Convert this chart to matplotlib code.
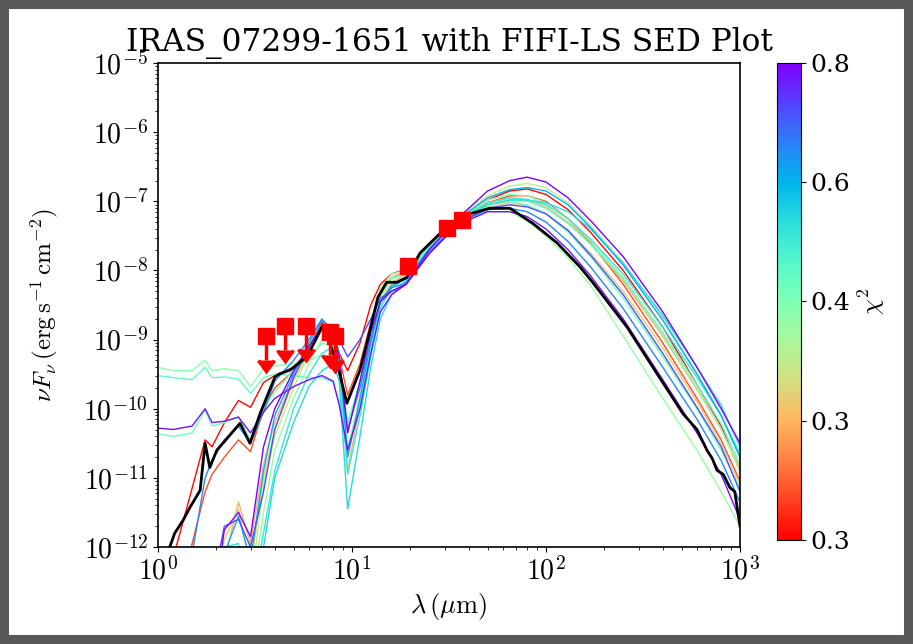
import numpy as np
import matplotlib
matplotlib.use('Agg')
import matplotlib.pyplot as plt
from matplotlib.colors import LogNorm
from matplotlib.ticker import LogLocator, FixedLocator, FuncFormatter
from matplotlib.patches import Rectangle

plt.rcParams['font.family'] = 'serif'
plt.rcParams['font.serif'] = ['DejaVu Serif']
plt.rcParams['mathtext.fontset'] = 'cm'

title = 'IRAS_07299-1651 with FIFI-LS SED Plot'

# wavelength grid (micron) shared by the model curves
wl = [1.0, 1.2, 1.5, 1.75, 1.9, 2.2, 2.6, 3.0, 3.5, 4.0, 5.0, 6.0, 7.0, 8.0, 8.6, 9.5,
      11, 12.5, 14, 16, 19, 25, 35, 50, 65, 80, 100, 130, 170, 250, 400, 600, 800, 1000]

# chi^2 of each model and its log10(nuFnu) values on the grid
chi2 = [0.255, 0.283, 0.336, 0.355, 0.39, 0.435, 0.425, 0.48, 0.46,
        0.55, 0.53, 0.60, 0.65, 0.71, 0.78, 0.80]
models = [
    # red
    [-13.0, -12.15, -11.15, -10.45, -10.55, -10.20, -9.88, -9.98, -9.62, -9.52, -9.40, -9.15, -8.75, -8.95, -9.20, -9.45,
     -9.05, -8.50, -8.20, -8.05, -7.98, -7.62, -7.25, -6.98, -6.85, -6.82, -6.90, -7.12, -7.45, -8.00, -8.82, -9.65, -10.25, -10.90],
    # orange-red
    [-13.0, -13.0, -11.95, -11.20, -10.95, -10.70, -10.45, -10.62, -10.00, -9.70, -9.45, -9.15, -8.80, -8.92, -9.25, -9.80,
     -9.35, -8.75, -8.30, -8.10, -8.02, -7.66, -7.28, -7.02, -6.92, -6.92, -7.00, -7.25, -7.60, -8.20, -9.05, -9.85, -10.45, -11.05],
    # orange
    [-13.0, -13.0, -13.0, -13.0, -13.0, -12.20, -11.35, -11.95, -10.80, -10.20, -9.55, -9.15, -8.78, -8.85, -9.30, -10.90,
     -9.95, -9.10, -8.45, -8.18, -8.05, -7.68, -7.28, -7.02, -6.95, -6.98, -7.08, -7.30, -7.62, -8.15, -8.95, -9.72, -10.30, -10.85],
    # orange 2
    [-13.0, -13.0, -13.0, -13.0, -12.5, -11.90, -11.45, -12.30, -11.00, -10.30, -9.60, -9.20, -8.85, -8.95, -9.35, -10.70,
     -9.85, -9.05, -8.45, -8.20, -8.08, -7.70, -7.30, -7.08, -7.02, -7.06, -7.18, -7.42, -7.75, -8.30, -9.12, -9.90, -10.50, -11.10],
    # olive
    [-13.0, -13.0, -13.0, -13.0, -13.0, -13.0, -12.30, -12.60, -11.10, -10.40, -9.70, -9.20, -8.80, -8.85, -9.20, -10.60,
     -9.80, -9.00, -8.40, -8.12, -8.02, -7.64, -7.22, -6.92, -6.78, -6.74, -6.80, -7.02, -7.35, -7.88, -8.68, -9.48, -10.08, -10.70],
    # light green, flat near-IR
    [-9.40, -9.45, -9.45, -9.30, -9.45, -9.42, -9.45, -9.68, -9.42, -9.38, -9.35, -9.30, -9.22, -9.25, -9.45, -9.90,
     -9.45, -8.85, -8.30, -8.10, -8.05, -7.66, -7.26, -6.98, -6.90, -6.92, -7.02, -7.25, -7.58, -8.10, -8.92, -9.70, -10.30, -10.90],
    # light green, lowest far-IR
    [-13.0, -13.0, -13.0, -13.0, -13.0, -13.0, -13.0, -12.80, -11.50, -10.60, -9.85, -9.35, -9.00, -8.95, -9.25, -10.20,
     -9.60, -8.85, -8.25, -8.05, -8.00, -7.62, -7.28, -7.15, -7.15, -7.28, -7.50, -7.82, -8.22, -8.95, -9.85, -10.60, -11.20, -11.70],
    # aquamarine, flat near-IR
    [-9.52, -9.55, -9.58, -9.40, -9.55, -9.54, -9.57, -9.78, -9.55, -9.50, -9.52, -9.55, -9.55, -9.62, -9.90, -10.55,
     -9.95, -9.10, -8.50, -8.25, -8.12, -7.70, -7.30, -7.05, -6.98, -7.00, -7.10, -7.32, -7.62, -8.12, -8.90, -9.65, -10.22, -10.80],
    # green, mid near-IR
    [-10.36, -10.40, -10.35, -10.02, -10.25, -10.20, -10.12, -10.45, -10.00, -9.75, -9.45, -9.25, -9.05, -9.10, -9.40, -10.20,
     -9.65, -8.90, -8.35, -8.12, -8.05, -7.66, -7.27, -7.05, -7.00, -7.05, -7.18, -7.45, -7.80, -8.40, -9.25, -10.00, -10.60, -11.15],
    # cyan
    [-13.0, -13.0, -13.0, -13.0, -13.0, -13.0, -13.0, -13.0, -12.00, -11.00, -10.20, -9.68, -9.45, -9.35, -9.60, -11.45,
     -10.40, -9.40, -8.70, -8.35, -8.15, -7.70, -7.28, -7.05, -6.98, -6.98, -7.02, -7.15, -7.40, -7.90, -8.65, -9.40, -9.95, -10.55],
    # cyan 2
    [-13.0, -13.0, -13.0, -13.0, -13.0, -12.00, -11.95, -12.80, -11.80, -10.90, -10.00, -9.50, -9.20, -9.10, -9.45, -10.95,
     -10.10, -9.25, -8.55, -8.25, -8.10, -7.68, -7.27, -7.02, -6.95, -6.97, -7.05, -7.25, -7.55, -8.05, -8.82, -9.55, -10.10, -10.65],
    # sky blue
    [-13.0, -13.0, -13.0, -13.0, -13.0, -12.10, -11.55, -12.20, -10.90, -10.10, -9.50, -9.05, -8.72, -8.85, -9.20, -10.70,
     -9.85, -9.05, -8.45, -8.22, -8.12, -7.70, -7.26, -6.95, -6.83, -6.80, -6.85, -7.05, -7.38, -7.92, -8.72, -9.50, -10.10, -10.70],
    # blue
    [-13.0, -13.0, -12.10, -11.00, -10.75, -10.45, -10.25, -10.50, -10.05, -9.60, -9.30, -9.00, -8.70, -8.90, -9.30, -10.30,
     -9.70, -9.00, -8.45, -8.25, -8.18, -7.74, -7.32, -7.12, -7.10, -7.15, -7.30, -7.58, -7.95, -8.55, -9.40, -10.15, -10.75, -11.35],
    # blue-purple
    [-13.0, -13.0, -13.0, -13.0, -12.60, -11.70, -11.60, -12.00, -11.20, -10.30, -9.55, -9.10, -8.80, -8.90, -9.00, -9.25,
     -9.00, -8.70, -8.40, -8.30, -8.20, -7.75, -7.32, -7.10, -7.05, -7.08, -7.18, -7.42, -7.78, -8.35, -9.20, -9.98, -10.55, -11.20],
    # purple, mid near-IR
    [-10.28, -10.30, -10.25, -10.00, -10.20, -10.18, -10.12, -10.35, -10.05, -9.85, -9.68, -9.58, -9.52, -9.60, -9.95, -10.60,
     -10.00, -9.20, -8.60, -8.35, -8.20, -7.76, -7.34, -7.15, -7.15, -7.22, -7.40, -7.70, -8.08, -8.70, -9.58, -10.35, -10.95, -11.60],
    # purple, highest far-IR
    [-13.0, -13.0, -13.0, -13.0, -13.0, -11.75, -11.50, -11.85, -10.55, -10.00, -9.45, -9.10, -8.80, -8.90, -9.25, -10.35,
     -9.60, -8.90, -8.45, -8.30, -8.20, -7.70, -7.25, -6.85, -6.70, -6.65, -6.72, -6.95, -7.28, -7.80, -8.60, -9.40, -10.00, -10.50],
]

# best-fit model (black)
best_wl = [1.10, 1.15, 1.22, 1.35, 1.46, 1.65, 1.75, 1.85, 2.01, 2.16, 2.65, 2.98, 3.36, 4.01, 4.2, 4.79, 5.86, 7.09,
           8.37, 9.42, 11.0, 12.4, 13.6, 15.1, 17.1, 19.2, 22.4, 29.5, 39.2, 51.4, 65.2, 85.7, 114, 150, 175, 262,
           373, 508, 600, 676, 720, 761, 820, 887, 940, 977, 1000]
best_logf = [-12.3, -12.0, -11.80, -11.61, -11.43, -11.18, -10.50, -10.85, -10.60, -10.50, -10.21, -10.50, -10.07, -9.54,
             -9.50, -9.44, -9.25, -8.79, -9.34, -9.92, -9.44, -8.86, -8.39, -8.17, -8.17, -8.10, -7.75, -7.42, -7.19,
             -7.10, -7.10, -7.32, -7.60, -7.95, -8.18, -8.82, -9.49, -10.07, -10.30, -10.60, -10.72, -10.89, -10.95,
             -11.14, -11.20, -11.51, -11.70]

# photometry
phot_wl = [19.4, 31.0, 37.0]
phot_f = [1.15e-8, 4.1e-8, 5.4e-8]
ulim_wl = [3.6, 4.5, 5.8, 7.7, 8.2]
ulim_f = [1.12e-9, 1.55e-9, 1.6e-9, 1.31e-9, 1.14e-9]

cbar_labels = ['0.3', '0.3', '0.4', '0.6', '0.8']

fig = plt.figure(figsize=(9.13, 6.44), dpi=100)
ax = fig.add_axes([0.173, 0.1506, 0.6375, 0.7514])
cax = fig.add_axes([0.851, 0.1615, 0.0263, 0.7407])

cmap = plt.get_cmap('rainbow_r')
norm = LogNorm(vmin=0.252, vmax=0.8)

for c, m in zip(chi2, models):
    ax.plot(wl, 10 ** np.array(m), color=cmap(norm(c)), lw=1.0)
ax.plot(best_wl, 10 ** np.array(best_logf), color='black', lw=2.0, zorder=5)

ax.errorbar(ulim_wl, ulim_f, yerr=0.55 * np.array(ulim_f), uplims=True, fmt='s', color='red',
            ms=11, elinewidth=2.5, capsize=5.5, capthick=2.5, zorder=10)
ax.plot(phot_wl, phot_f, 's', color='red', ms=11, zorder=10)

ax.set_xscale('log')
ax.set_yscale('log')
ax.set_xlim(1, 1000)
ax.set_ylim(1e-12, 1e-5)
ax.yaxis.set_major_locator(LogLocator(base=10, numticks=20))
ax.yaxis.set_minor_locator(LogLocator(base=10, subs=np.arange(2, 10), numticks=100))
pow_fmt = FuncFormatter(lambda v, pos: r'$10^{%d}$' % round(np.log10(v)))
ax.xaxis.set_major_formatter(pow_fmt)
ax.yaxis.set_major_formatter(pow_fmt)
ax.tick_params(labelsize=20)
for s in ax.spines.values():
    s.set_linewidth(1.2)
ax.set_xlabel(r'$\lambda\,(\mu\mathrm{m})$', fontsize=19)
ax.set_ylabel(r'$\nu F_\nu\,(\mathrm{erg\,s^{-1}\,cm^{-2}})$', fontsize=18, labelpad=17)
ax.set_title(title, fontsize=22.5, pad=9)

sm = plt.cm.ScalarMappable(cmap=cmap, norm=norm)
cb = fig.colorbar(sm, cax=cax)
cbar_ticks = np.geomspace(0.252, 0.8, 5)
cb.ax.yaxis.set_major_locator(FixedLocator(cbar_ticks))
cb.ax.yaxis.set_minor_locator(FixedLocator([]))
cb.ax.set_yticklabels(cbar_labels)
cb.ax.tick_params(labelsize=18)
cb.set_label(r'$\chi^2$', fontsize=18)

fig.add_artist(Rectangle((0, 0), 1, 1, transform=fig.transFigure, fill=False,
                         ec='#585858', lw=13))

fig.savefig('out.png', dpi=100)
